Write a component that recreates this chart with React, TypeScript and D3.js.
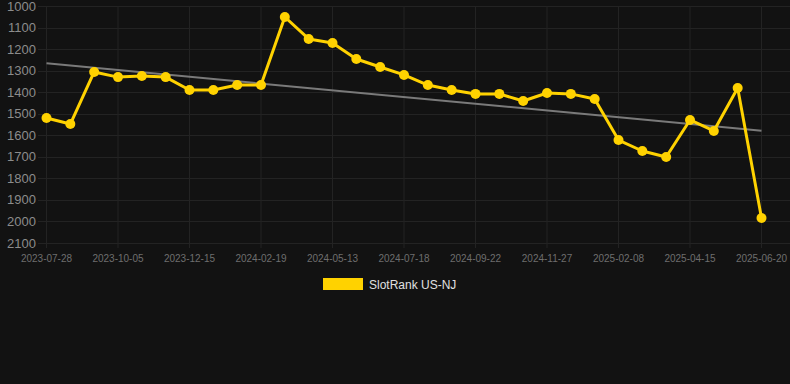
import React from "react";
import * as d3 from "d3";

const dates = [
  "2023-07-28", "2023-08-20", "2023-09-12", "2023-10-05", "2023-10-28", "2023-11-20",
  "2023-12-15", "2024-01-05", "2024-01-28", "2024-02-19", "2024-03-15", "2024-04-15",
  "2024-05-13", "2024-06-05", "2024-06-25", "2024-07-18", "2024-08-10", "2024-08-30",
  "2024-09-22", "2024-10-15", "2024-11-05", "2024-11-27", "2024-12-20", "2025-01-15",
  "2025-02-08", "2025-03-01", "2025-03-22", "2025-04-15", "2025-05-08", "2025-05-28",
  "2025-06-20",
];
const ranks = [
  1520, 1548, 1306, 1330, 1325, 1330, 1390, 1390, 1367, 1367, 1051, 1153, 1172, 1246,
  1283, 1320, 1367, 1390, 1408, 1408, 1441, 1404, 1408, 1432, 1622, 1673, 1701, 1529,
  1580, 1381, 1984,
];
const yTicks = [1000, 1100, 1200, 1300, 1400, 1500, 1600, 1700, 1800, 1900, 2000, 2100];
const trendEnds = [1266, 1579];
const seriesName = "SlotRank US-NJ";

export default function App() {
  const W = 790, H = 384;
  const x = d3.scalePoint<string>().domain(dates).range([46.5, 761.5]);
  const y = d3.scaleLinear().domain([1000, 2100]).range([6, 243]);
  const line = d3.line<number>().x((_, i) => x(dates[i])!).y((d) => y(d));
  const labeled = dates.filter((_, i) => i % 3 === 0);
  const gold = "#FFD200";
  return (
    <svg width={W} height={H} style={{ position: "absolute", left: 0, top: 0, background: "#121212" }}>
      <rect x={0} y={0} width={W} height={H} fill="#121212" />
      {yTicks.map((t) => (
        <line key={t} x1={38} x2={W} y1={Math.round(y(t)) + 0.5} y2={Math.round(y(t)) + 0.5} stroke="#232323" strokeWidth={1} />
      ))}
      {labeled.map((d) => (
        <line key={d} x1={x(d)} x2={x(d)} y1={6} y2={248} stroke="#232323" strokeWidth={1} />
      ))}
      {yTicks.map((t) => (
        <text key={t} x={36} y={y(t)} dy="0.35em" textAnchor="end" fill="#8c8c8c" fontSize={13} fontFamily="Arial, Liberation Sans, sans-serif">
          {t}
        </text>
      ))}
      {labeled.map((d) => (
        <text key={d} x={x(d)} y={262} textAnchor="middle" fill="#6e6e6e" fontSize={10} fontFamily="Arial, Liberation Sans, sans-serif">
          {d}
        </text>
      ))}
      <line
        x1={x(dates[0])}
        x2={x(dates[dates.length - 1])}
        y1={y(trendEnds[0])}
        y2={y(trendEnds[1])}
        stroke="#7a7a7a"
        strokeWidth={2}
      />
      <path d={line(ranks) || ""} fill="none" stroke={gold} strokeWidth={3} strokeLinejoin="round" />
      {ranks.map((v, i) => (
        <circle key={i} cx={x(dates[i])} cy={y(v)} r={5} fill={gold} />
      ))}
      <rect x={323} y={278} width={40} height={12} fill={gold} />
      <text x={369} y={288.5} fill="#e0e0e0" fontSize={12} fontFamily="Arial, Liberation Sans, sans-serif">
        {seriesName}
      </text>
    </svg>
  );
}
